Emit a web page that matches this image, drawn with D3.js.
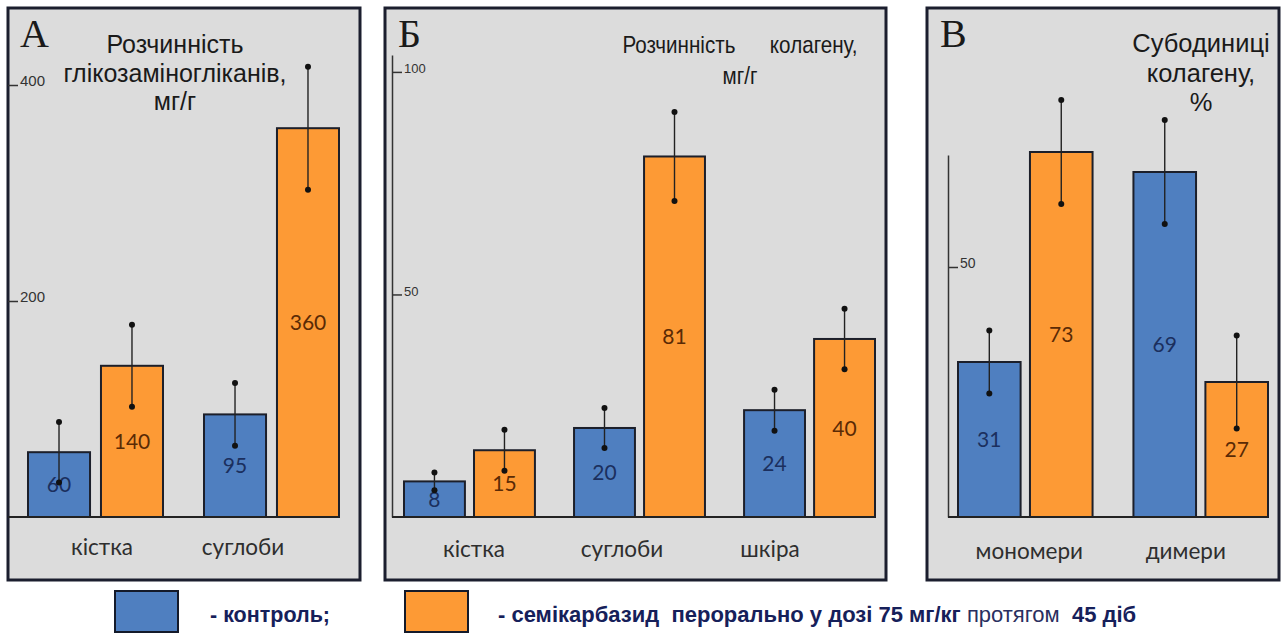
<!DOCTYPE html>
<html>
<head>
<meta charset="utf-8">
<script src="https://cdn.jsdelivr.net/npm/d3@7"></script>
<style>
  html, body { margin: 0; padding: 0; background: #ffffff; }
  svg { display: block; }
</style>
</head>
<body>
<svg id="chart" width="1287" height="633"></svg>
<script>
// ---- series ----
const seriesNames = ["контроль", "семікарбазид"];
const seriesColors = ["#4f7fc0", "#fd9a35"];
const valueTextColors = ["#1b2f5e", "#5a2a05"];

// ---- panel А: glycosaminoglycan solubility, mg/g ----
const categoriesA = ["кістка", "суглоби"];
const controlA = [60, 95];
const semicarbazideA = [140, 360];
const controlErrA = [28, 29];
const semicarbazideErrA = [38, 57];
const ticksA = [200, 400];

// ---- panel Б: collagen solubility, mg/g ----
const categoriesB = ["кістка", "суглоби", "шкіра"];
const controlB = [8, 20, 24];
const semicarbazideB = [15, 81, 40];
const controlErrB = [2, 4.5, 4.6];
const semicarbazideErrB = [4.6, 10, 6.8];
const ticksB = [50, 100];

// ---- panel В: collagen subunits, % ----
const categoriesC = ["мономери", "димери"];
const controlC = [31, 69];
const semicarbazideC = [73, 27];
const controlErrC = [6.3, 10.4];
const semicarbazideErrC = [10.4, 9.3];
const ticksC = [50];

const svg = d3.select("#chart");
const baseY = 517;

const panels = [
  {
    letter: "А", box: [8, 8, 360, 580],
    title: ["Розчинність", "глікозаміногліканів,", "мг/г"], titleX: 175, titleY: [53, 82, 110],
    titleSize: 25, titleStretch: 1,
    cats: categoriesA, vals: [controlA, semicarbazideA], errs: [controlErrA, semicarbazideErrA],
    ticks: ticksA, yMax: 400, yTop: 85, axisX: 8, axisLine: false, tickFont: 15,
    barRange: [28, 339], groupPad: 0.233, barPad: 0.15,
    labelRange: [31.5, 313.5], labelY: 555, letterX: 20
  },
  {
    letter: "Б", box: [385, 8, 886, 580],
    title: ["Розчинність      колагену,", "мг/г"], titleX: 740, titleY: [53, 84],
    titleSize: 24, titleStretch: 0.86,
    cats: categoriesB, vals: [controlB, semicarbazideB], errs: [controlErrB, semicarbazideErrB],
    ticks: ticksB, yMax: 103.8, yTop: 55, axisX: 392, axisLine: true, tickFont: 13,
    barRange: [404, 875], groupPad: 0.23, barPad: 0.13,
    labelRange: [400, 844], labelY: 557, letterX: 398
  },
  {
    letter: "В", box: [927, 8, 1279, 580],
    title: ["Субодиниці", "колагену,", "%"], titleX: 1201, titleY: [52, 82, 111],
    titleSize: 25.5, titleStretch: 1,
    cats: categoriesC, vals: [controlC, semicarbazideC], errs: [controlErrC, semicarbazideErrC],
    ticks: ticksC, yMax: 72.4, yTop: 155, axisX: 948, axisLine: true, tickFont: 14,
    barRange: [958, 1268], groupPad: 0.233, barPad: 0.13,
    labelRange: [951, 1264], labelY: 559, letterX: 940
  }
];

panels.forEach(p => {
  const g = svg.append("g");
  const [x0, y0, x1, y1] = p.box;

  // panel frame
  g.append("rect")
    .attr("x", x0).attr("y", y0)
    .attr("width", x1 - x0).attr("height", y1 - y0)
    .attr("fill", "#dcdcdc")
    .attr("stroke", "#1b1e2e").attr("stroke-width", 3);

  // panel letter
  g.append("text")
    .attr("x", p.letterX).attr("y", 47)
    .attr("font-family", "Liberation Serif, serif")
    .attr("font-size", 40)
    .attr("fill", "#1a1a1a")
    .text(p.letter);

  // title
  g.append("g")
    .attr("transform", `translate(${p.titleX},0) scale(${p.titleStretch},1)`)
    .append("text")
    .attr("font-family", "Liberation Sans, Arial, sans-serif")
    .attr("font-size", p.titleSize)
    .attr("fill", "#1a1a1a")
    .attr("text-anchor", "middle")
    .style("white-space", "pre")
    .selectAll("tspan").data(p.title).join("tspan")
    .attr("x", 0)
    .attr("y", (d, i) => p.titleY[i])
    .text(d => d);

  // scales
  const y = d3.scaleLinear().domain([0, p.yMax]).range([baseY, p.yTop]);
  const x = d3.scaleBand().domain(p.cats).range(p.barRange)
    .paddingInner(p.groupPad).paddingOuter(0);
  const xs = d3.scaleBand().domain(seriesNames).range([0, x.bandwidth()])
    .paddingInner(p.barPad).paddingOuter(0);
  const xl = d3.scaleBand().domain(p.cats).range(p.labelRange);

  // value axis
  const ax = g.append("g")
    .attr("transform", `translate(${p.axisX},0)`)
    .call(d3.axisRight(y).tickValues(p.ticks).tickSize(10).tickSizeOuter(0).tickPadding(2));
  ax.select(".domain")
    .attr("stroke", "#333").attr("stroke-width", 1.5)
    .attr("display", p.axisLine ? null : "none");
  ax.selectAll(".tick line").attr("stroke", "#333").attr("stroke-width", 1.5);
  ax.selectAll(".tick text")
    .attr("dy", "0.05em")
    .attr("fill", "#333")
    .attr("font-family", "Liberation Sans, Arial, sans-serif")
    .attr("font-size", p.tickFont);

  // category axis
  const cx = g.append("g")
    .attr("transform", `translate(0,${p.labelY})`)
    .call(d3.axisBottom(xl).tickSize(0).tickPadding(0));
  cx.select(".domain").remove();
  cx.selectAll(".tick text")
    .attr("dy", 0)
    .attr("fill", "#2e2e2e")
    .attr("font-family", "Lato, sans-serif")
    .attr("font-size", 22.5);

  // bars
  const rows = [];
  p.cats.forEach((c, ci) => {
    seriesNames.forEach((s, si) => {
      rows.push({ cat: c, s, si, v: p.vals[si][ci], e: p.errs[si][ci] });
    });
  });

  const bars = g.append("g").selectAll("g").data(rows).join("g")
    .attr("transform", d => `translate(${x(d.cat) + xs(d.s)},0)`);

  bars.append("rect")
    .attr("x", 0)
    .attr("y", d => y(d.v))
    .attr("width", xs.bandwidth())
    .attr("height", d => y(0) - y(d.v))
    .attr("fill", d => seriesColors[d.si])
    .attr("stroke", "#1c1f2a").attr("stroke-width", 2);

  // value labels at mid-height of each bar
  bars.append("text")
    .attr("x", xs.bandwidth() / 2)
    .attr("y", d => (y(d.v) + y(0)) / 2)
    .attr("dy", "0.36em")
    .attr("text-anchor", "middle")
    .attr("font-family", "Lato, sans-serif")
    .attr("font-size", 21)
    .attr("fill", d => valueTextColors[d.si])
    .text(d => d.v);

  // error bars centred on bar tops
  bars.append("line")
    .attr("x1", xs.bandwidth() / 2).attr("x2", xs.bandwidth() / 2)
    .attr("y1", d => y(d.v + d.e)).attr("y2", d => y(d.v - d.e))
    .attr("stroke", "#222").attr("stroke-width", 1.4);
  bars.selectAll("circle").data(d => [d.v + d.e, d.v - d.e]).join("circle")
    .attr("cx", xs.bandwidth() / 2)
    .attr("cy", v => y(v))
    .attr("r", 3)
    .attr("fill", "#111");

  // baseline
  g.append("line")
    .attr("x1", p.axisX).attr("x2", p.barRange[1])
    .attr("y1", y(0)).attr("y2", y(0))
    .attr("stroke", "#222").attr("stroke-width", 2);
});

// ---- legend ----
const legend = svg.append("g");
const legendBoxes = [115, 405];
legend.selectAll("rect").data(seriesColors).join("rect")
  .attr("x", (d, i) => legendBoxes[i]).attr("y", 591)
  .attr("width", 63).attr("height", 41)
  .attr("fill", d => d)
  .attr("stroke", "#141a2a").attr("stroke-width", 2);

legend.append("text")
  .attr("x", 210).attr("y", 622)
  .attr("font-family", "Liberation Sans, Arial, sans-serif")
  .attr("font-weight", "bold")
  .attr("font-size", 21.5)
  .attr("fill", "#16205a")
  .text("- контроль;");

const longText = legend.append("text")
  .attr("x", 498).attr("y", 622)
  .attr("font-family", "Liberation Sans, Arial, sans-serif")
  .attr("font-size", 22)
  .attr("fill", "#16205a")
  .style("white-space", "pre");
longText.append("tspan").attr("font-weight", "bold").text("- семікарбазид  перорально у дозі 75 мг/кг ");
longText.append("tspan").attr("font-weight", "normal").attr("fill", "#2a2f60").text("протягом ");
longText.append("tspan").attr("font-weight", "bold").text(" 45 діб");
</script>
</body>
</html>
